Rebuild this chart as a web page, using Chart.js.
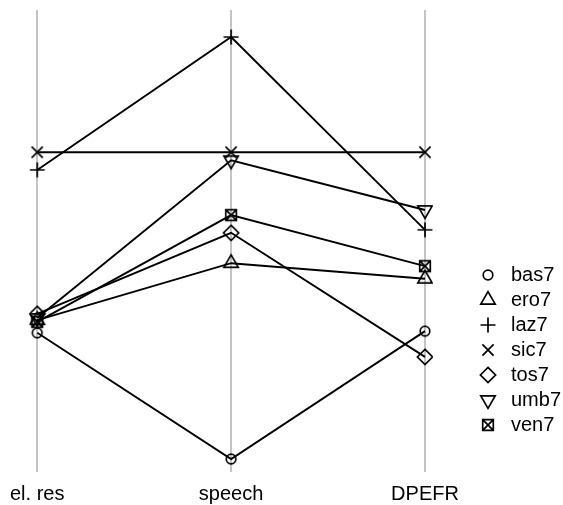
<!DOCTYPE html>
<html>
<head>
<meta charset="utf-8">
<script src="https://cdn.jsdelivr.net/npm/chart.js@4/dist/chart.umd.min.js"></script>
<style>
  html, body { margin: 0; padding: 0; background: #fff; }
  #wrap { width: 563px; height: 505px; position: relative; }
</style>
</head>
<body>
<div id="wrap"><canvas id="c" width="563" height="505"></canvas></div>
<script>
// ---- data ----
const categories = ['el. res', 'speech', 'DPEFR'];
const seriesNames = ['bas7', 'ero7', 'laz7', 'sic7', 'tos7', 'umb7', 'ven7'];
const bas7 = [0.299, 0.000, 0.303];
const ero7 = [0.329, 0.464, 0.427];
const laz7 = [0.685, 1.000, 0.543];
const sic7 = [0.727, 0.727, 0.727];
const tos7 = [0.344, 0.536, 0.242];
const umb7 = [0.334, 0.708, 0.590];
const ven7 = [0.325, 0.578, 0.457];
const seriesValues = [bas7, ero7, laz7, sic7, tos7, umb7, ven7];
const markerKinds = ['circle', 'triangle', 'plus', 'cross', 'diamond', 'triangleDown', 'squareX'];

// ---- marker images (R-style open symbols) ----
function makeMarker(kind) {
  const S = 22, c = S / 2;
  const cv = document.createElement('canvas');
  cv.width = S; cv.height = S;
  const g = cv.getContext('2d');
  g.strokeStyle = '#000';
  g.lineWidth = 1.7;
  g.beginPath();
  if (kind === 'circle') {
    g.arc(c, c, 4.8, 0, Math.PI * 2);
  } else if (kind === 'triangle' || kind === 'triangleDown') {
    const s = kind === 'triangle' ? 1 : -1;
    const xc = 7.2, r = xc / (Math.sqrt(3) / 2), yc = r / 2;
    g.moveTo(c, c - s * r);
    g.lineTo(c + xc, c + s * yc);
    g.lineTo(c - xc, c + s * yc);
    g.closePath();
  } else if (kind === 'plus') {
    const a = 7.5;
    g.moveTo(c - a, c); g.lineTo(c + a, c);
    g.moveTo(c, c - a); g.lineTo(c, c + a);
  } else if (kind === 'cross') {
    const a = 5.6;
    g.moveTo(c - a, c - a); g.lineTo(c + a, c + a);
    g.moveTo(c - a, c + a); g.lineTo(c + a, c - a);
  } else if (kind === 'diamond') {
    const a = 7.6;
    g.moveTo(c, c - a); g.lineTo(c + a, c); g.lineTo(c, c + a); g.lineTo(c - a, c);
    g.closePath();
  } else if (kind === 'squareX') {
    const a = 5.3;
    g.rect(c - a, c - a, 2 * a, 2 * a);
    g.moveTo(c - a, c - a); g.lineTo(c + a, c + a);
    g.moveTo(c - a, c + a); g.lineTo(c + a, c - a);
  }
  g.stroke();
  return cv;
}

const datasets = seriesNames.map((name, i) => ({
  label: name,
  data: seriesValues[i],
  borderColor: '#000',
  backgroundColor: 'rgba(0,0,0,0)',
  borderWidth: 1.9,
  tension: 0,
  fill: false,
  pointStyle: makeMarker(markerKinds[i]),
  pointRadius: 6,
  pointHoverRadius: 6
}));

const FONT = "'Liberation Sans', Arial, Helvetica, sans-serif";

// place the legend column at its spot in the right margin
const legendPlacement = {
  id: 'legendPlacement',
  afterLayout(chart) {
    if (chart.legend) {
      chart.legend.top = 0;
      chart.legend.bottom = 440;
    }
  }
};

new Chart(document.getElementById('c'), {
  type: 'line',
  data: { labels: categories, datasets },
  plugins: [legendPlacement],
  options: {
    responsive: false,
    animation: false,
    events: [],
    layout: { padding: { left: 36, top: 10, right: 0, bottom: 0 } },
    plugins: {
      tooltip: { enabled: false },
      legend: {
        position: 'right',
        align: 'end',
        maxWidth: 93,
        labels: {
          usePointStyle: true,
          pointStyleWidth: 26,
          padding: 5,
          color: '#000',
          font: { family: FONT, size: 20 }
        }
      }
    },
    scales: {
      x: {
        type: 'category',
        offset: false,
        grid: { display: true, color: '#c4c4c4', lineWidth: 2, drawTicks: false },
        border: { display: false },
        ticks: { color: '#000', font: { family: FONT, size: 20 }, padding: 10, maxRotation: 0, autoSkip: false },
        afterFit: (s) => { s.height = 33; }
      },
      y: {
        position: 'right',
        min: -0.0308,
        max: 1.064,
        grid: { display: false },
        border: { display: false },
        ticks: { display: false },
        afterFit: (s) => { s.width = 45; s.paddingTop = 0; s.paddingBottom = 0; }
      }
    }
  }
});
</script>
</body>
</html>
